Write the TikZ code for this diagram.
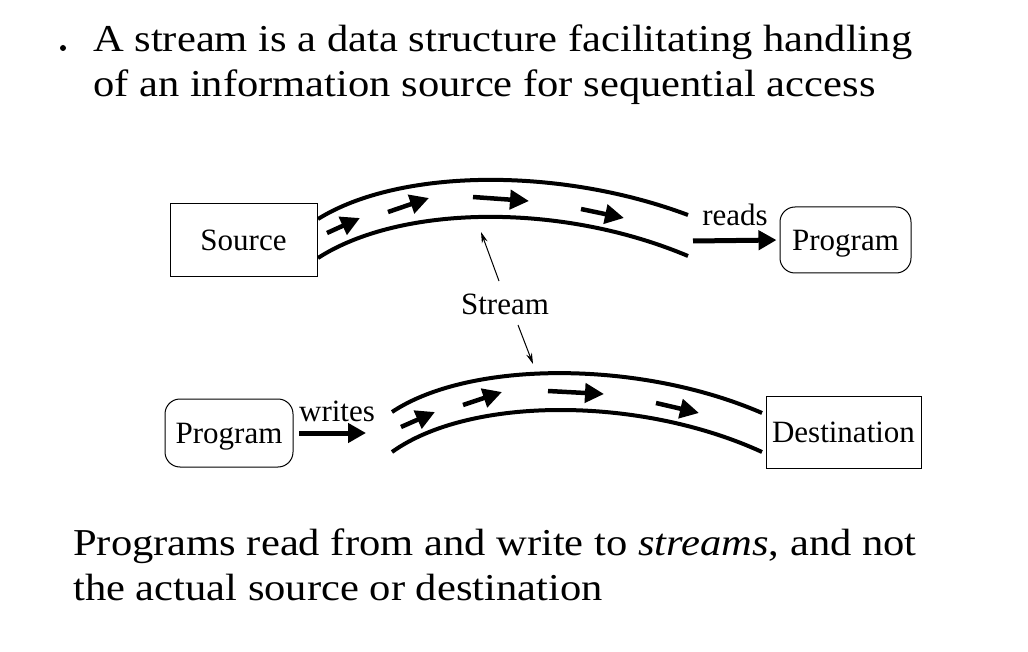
\documentclass[tikz,border=0pt]{standalone}
\usepackage{fontspec}
\setmainfont{Liberation Serif}[FakeStretch=1.12]
\newfontfamily\smallfont{Liberation Serif}
\usetikzlibrary{arrows.meta}
\begin{document}
\begin{tikzpicture}[x=1pt,y=-1pt,
  big/.style={font=\fontsize{38}{45}\selectfont, inner sep=0pt, anchor=base west},
  small/.style={font=\smallfont\fontsize{31}{34}\selectfont},
  box/.style={draw, line width=1pt, inner sep=0pt, small, text height=21pt, text depth=0pt},
  rbox/.style={box, rounded corners=15pt},
  pipe/.style={line width=4pt},
  flow/.style={line width=4.5pt, -{Triangle[length=19pt,width=19pt]}},
  fat/.style={line width=5pt, -{Triangle[length=18pt,width=19pt]}},
  thin/.style={line width=1pt, -{Stealth[length=11pt,width=6pt]}}]
\useasboundingbox[fill=white] (0,0) rectangle (1028,652);

% text
\node[circle, fill, inner sep=0pt, minimum size=6pt] (bul) at (63,48) {};
\node[big] (t1) at (93,52) {A stream is a data structure facilitating handling};
\node[big] (t2) at (93,97) {of an information source for sequential access};
\node[big] (b1) at (73,555) {Programs read from and write to \textit{streams}, and not};
\node[big] (b2) at (73,600) {the actual source or destination};

% boxes
\node[box, minimum width=147pt, minimum height=73pt] (src) at (243.5,240.5) {Source};
\node[rbox, minimum width=131pt, minimum height=66pt] (prog1) at (845.5,240) {Program};
\node[rbox, minimum width=128pt, minimum height=68pt] (prog2) at (229,433) {Program};
\node[box, minimum width=155pt, minimum height=72pt] (dest) at (843.5,432) {Destination};

% top stream
\draw[pipe] (318,219) .. controls (400,168) and (560,167) .. (688,215);
\draw[pipe] (318,258) .. controls (400,205) and (560,202) .. (688,256);
% bottom stream
\draw[pipe] (392,412) .. controls (470,360) and (640,360) .. (762,413);
\draw[pipe] (392,452) .. controls (470,396) and (640,396) .. (762,452);

% flow arrows top
\coordinate (a1s) at (327,233); \coordinate (a1e) at (360,218);
\coordinate (a2s) at (388,212); \coordinate (a2e) at (429,198);
\coordinate (a3s) at (473,197); \coordinate (a3e) at (529,201);
\coordinate (a4s) at (581,209); \coordinate (a4e) at (624,218);
\draw[flow] (a1s) -- (a1e);
\draw[flow] (a2s) -- (a2e);
\draw[flow] (a3s) -- (a3e);
\draw[flow] (a4s) -- (a4e);
% flow arrows bottom
\coordinate (c1s) at (401,427); \coordinate (c1e) at (435,412);
\coordinate (c2s) at (463,405); \coordinate (c2e) at (502,392);
\coordinate (c3s) at (548,391); \coordinate (c3e) at (604,394);
\coordinate (c4s) at (656,403); \coordinate (c4e) at (699,413);
\draw[flow] (c1s) -- (c1e);
\draw[flow] (c2s) -- (c2e);
\draw[flow] (c3s) -- (c3e);
\draw[flow] (c4s) -- (c4e);

% reads / writes
\coordinate (r0) at (693,241);
\draw[fat, shorten >=3pt] (r0) -- (prog1.west);
\node[small] (readsl) at (735,215) {reads};
\coordinate (w0) at (299,433); \coordinate (w1) at (366,433);
\draw[fat] (w0) -- (w1);
\node[small] (writesl) at (337,411) {writes};

% stream label
\node[small] (stl) at (505,304) {Stream};
\coordinate (s0) at (499,281); \coordinate (s1) at (481,232);
\coordinate (s2) at (518,325); \coordinate (s3) at (533,364);
\draw[thin] (s0) -- (s1);
\draw[thin] (s2) -- (s3);
\end{tikzpicture}
\end{document}
